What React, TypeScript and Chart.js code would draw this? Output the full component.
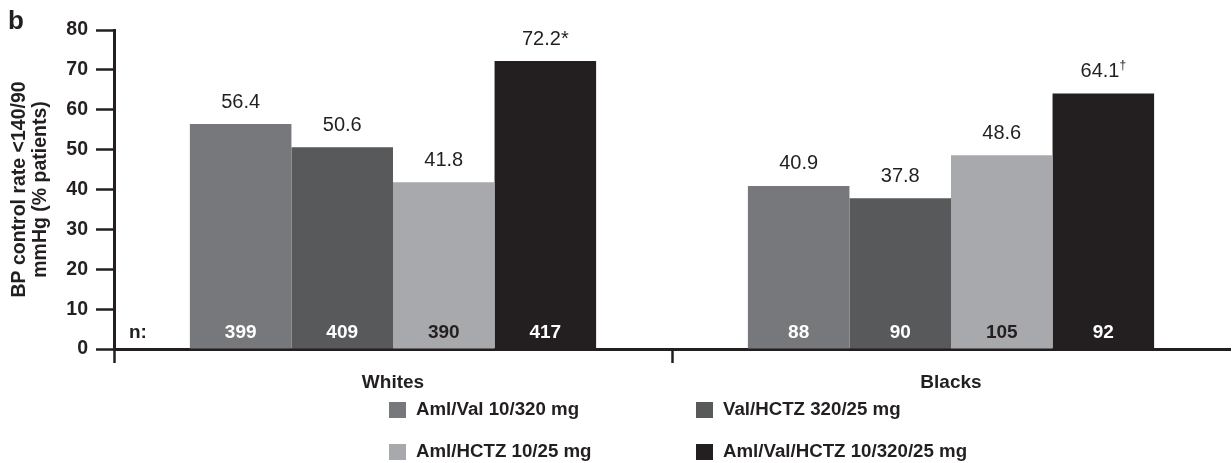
import { useEffect, useRef } from 'react';
import { Chart, registerables } from 'chart.js';

Chart.register(...registerables);

// Groups and treatment arms
const categories = ['Whites', 'Blacks'];
const treatments = [
  'Aml/Val 10/320 mg',
  'Val/HCTZ 320/25 mg',
  'Aml/HCTZ 10/25 mg',
  'Aml/Val/HCTZ 10/320/25 mg',
];

// BP control rate <140/90 mmHg (% patients)
const amlValRate = [56.4, 40.9];
const valHctzRate = [50.6, 37.8];
const amlHctzRate = [41.8, 48.6];
const tripleRate = [72.2, 64.1];

// Number of patients per arm
const amlValN = [399, 88];
const valHctzN = [409, 90];
const amlHctzN = [390, 105];
const tripleN = [417, 92];

// Significance markers
const plainMarks = ['', ''];
const tripleMarks = ['*', '†'];

const yTicks = [0, 10, 20, 30, 40, 50, 60, 70, 80];

const rates = [amlValRate, valHctzRate, amlHctzRate, tripleRate];
const counts = [amlValN, valHctzN, amlHctzN, tripleN];
const marks = [plainMarks, plainMarks, plainMarks, tripleMarks];

const ink = '#231f20';
const barColors = ['#77787b', '#58595b', '#a7a9ac', '#231f20'];
const countColors = ['#ffffff', '#ffffff', '#231f20', '#ffffff'];
const FONT = "'Liberation Sans', Arial, Helvetica, sans-serif";

const barLabels = {
  id: 'barLabels',
  afterDatasetsDraw(chart: any) {
    const { ctx } = chart;
    const zeroY = chart.scales.y.getPixelForValue(0);
    ctx.save();
    chart.data.datasets.forEach((ds: any, i: number) => {
      const meta = chart.getDatasetMeta(i);
      meta.data.forEach((bar: any, j: number) => {
        const text = ds.data[j].toFixed(1);
        const mark = marks[i][j];
        ctx.font = `20px ${FONT}`;
        const w = ctx.measureText(text).width;
        let mw = 0;
        if (mark === '*') {
          mw = ctx.measureText('*').width;
        } else if (mark) {
          ctx.font = `12px ${FONT}`;
          mw = ctx.measureText(mark).width;
        }
        const start = bar.x - (w + mw) / 2;
        const cy = bar.y - 22;
        ctx.fillStyle = ink;
        ctx.textBaseline = 'middle';
        ctx.textAlign = 'left';
        ctx.font = `20px ${FONT}`;
        ctx.fillText(text, start, cy);
        if (mark === '*') {
          ctx.fillText('*', start + w, cy);
        } else if (mark) {
          ctx.font = `12px ${FONT}`;
          ctx.fillText(mark, start + w, cy - 6);
        }
        // patient count at the foot of the bar
        ctx.font = `bold 19px ${FONT}`;
        ctx.textAlign = 'center';
        ctx.fillStyle = countColors[i];
        ctx.fillText(String(counts[i][j]), bar.x, zeroY - 16);
      });
    });
    ctx.font = `bold 19px ${FONT}`;
    ctx.textAlign = 'left';
    ctx.fillStyle = ink;
    ctx.fillText('n:', chart.chartArea.left + 15, zeroY - 16);
    ctx.restore();
  },
};

const legendBlock = {
  id: 'legendBlock',
  afterDraw(chart: any) {
    const { ctx } = chart;
    const cols = [389, 696];
    const rows = [410, 452];
    ctx.save();
    ctx.font = `bold 18.7px ${FONT}`;
    ctx.textBaseline = 'middle';
    ctx.textAlign = 'left';
    chart.data.datasets.forEach((ds: any, i: number) => {
      const x = cols[i % 2];
      const y = rows[Math.floor(i / 2)];
      ctx.fillStyle = ds.backgroundColor;
      ctx.fillRect(x, y - 8, 17, 16);
      ctx.fillStyle = ink;
      ctx.fillText(ds.label, x + 27, y);
    });
    ctx.font = `bold 26px ${FONT}`;
    ctx.textBaseline = 'alphabetic';
    ctx.fillText('b', 8, 29);
    ctx.restore();
  },
};

export default function App() {
  const canvasRef = useRef<HTMLCanvasElement | null>(null);

  useEffect(() => {
    document.body.style.margin = '0';
    const canvas = canvasRef.current;
    if (!canvas) return;
    const chart = new Chart(canvas, {
      type: 'bar',
      data: {
        labels: categories,
        datasets: treatments.map((label, i) => ({
          label,
          data: rates[i],
          backgroundColor: barColors[i],
          borderWidth: 0,
          categoryPercentage: 0.728,
          barPercentage: 1,
        })),
      },
      options: {
        animation: false,
        responsive: true,
        maintainAspectRatio: false,
        layout: { padding: { top: 30, right: 2, left: 0, bottom: 0 } },
        plugins: {
          legend: { display: false },
          tooltip: { enabled: false },
          title: { display: false },
        },
        scales: {
          x: {
            offset: true,
            grid: {
              offset: true,
              drawOnChartArea: false,
              drawTicks: true,
              tickLength: 14,
              tickWidth: 2.5,
              // only the boundaries before each group get a tick mark
              tickColor: (c: any) => (c.type === 'tick' ? ink : 'rgba(0,0,0,0)'),
            },
            border: { color: ink, width: 3 },
            ticks: {
              color: ink,
              font: { family: FONT, size: 19, weight: 'bold' },
              padding: 8,
            },
            afterFit(scale: any) {
              scale.height = 114;
            },
          },
          y: {
            min: 0,
            max: 80,
            afterBuildTicks(scale: any) {
              scale.ticks = yTicks.map((v) => ({ value: v }));
            },
            grid: {
              drawOnChartArea: false,
              drawTicks: true,
              tickLength: 18,
              tickWidth: 2.5,
              tickColor: ink,
            },
            border: { color: ink, width: 3 },
            ticks: {
              color: ink,
              font: { family: FONT, size: 19.5, weight: 'bold' },
              padding: 8,
            },
            title: {
              display: true,
              text: ['BP control rate <140/90', 'mmHg (% patients)'],
              color: ink,
              font: { family: FONT, size: 19.5, weight: 'bold', lineHeight: 1.03 },
              padding: { top: 10, bottom: 0 },
            },
            afterFit(scale: any) {
              scale.width = 114;
            },
          },
        },
      },
      plugins: [barLabels, legendBlock],
    });
    return () => chart.destroy();
  }, []);

  return (
    <div style={{ position: 'relative', width: 1232, height: 463 }}>
      <canvas ref={canvasRef} />
    </div>
  );
}
